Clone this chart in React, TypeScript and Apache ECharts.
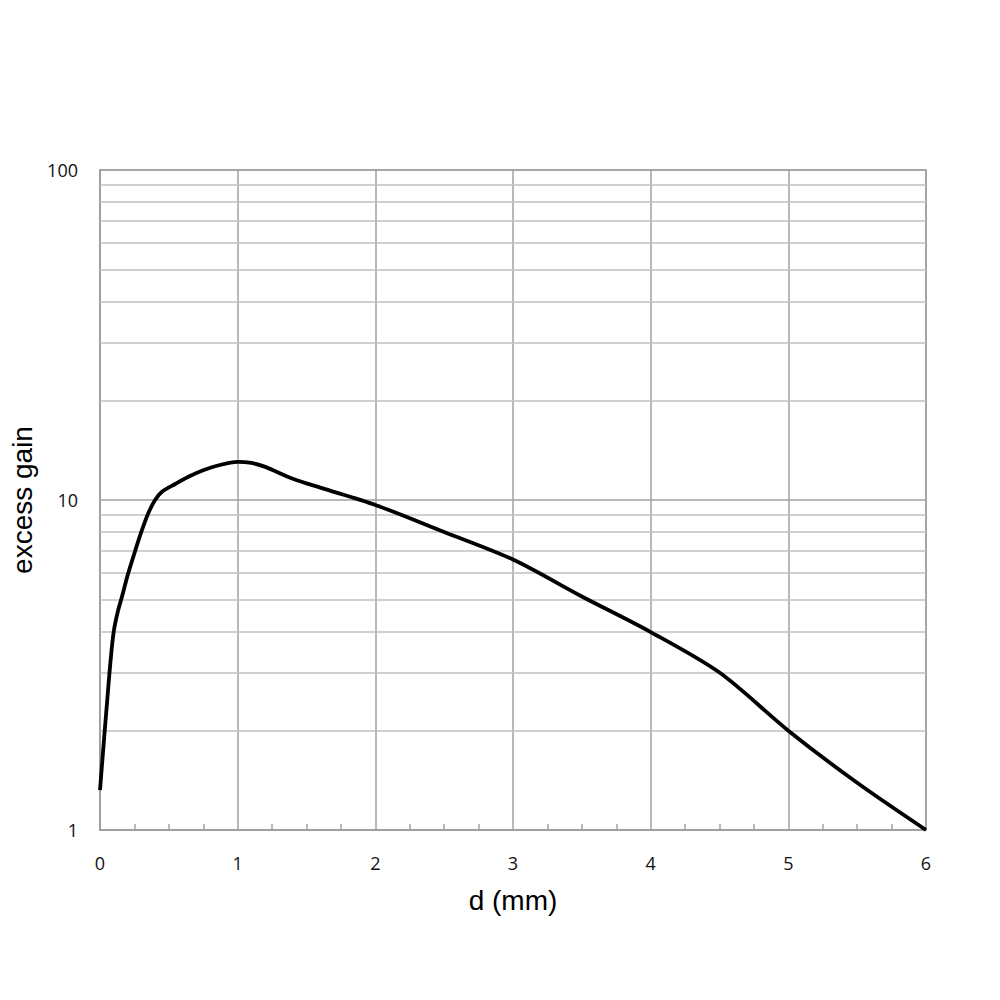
import React, { useEffect, useRef } from "react";
import * as echarts from "echarts";

const dValues = [0, 0.03, 0.05, 0.075, 0.1, 0.13, 0.16, 0.2, 0.25, 0.3, 0.35, 0.4, 0.45, 0.55, 0.65, 0.75, 0.85, 1.0, 1.1, 1.2, 1.4, 1.6, 2.0, 2.5, 3.0, 3.5, 4.0, 4.5, 5.0, 5.5, 6.0];
const gainValues = [1.32, 1.9, 2.4, 3.2, 4.0, 4.6, 5.1, 5.9, 6.9, 8.0, 9.1, 10.0, 10.6, 11.2, 11.8, 12.3, 12.7, 13.05, 12.95, 12.6, 11.6, 10.9, 9.66, 8.0, 6.6, 5.1, 3.98, 3.0, 2.0, 1.39, 1.0];
const minorGridValues = [2, 3, 4, 5, 6, 7, 8, 9, 20, 30, 40, 50, 60, 70, 80, 90];
const xTitle = "d (mm)";
const yTitle = "excess gain";

export default function App() {
  const ref = useRef<HTMLDivElement>(null);
  useEffect(() => {
    if (!ref.current) return;
    const chart = echarts.init(ref.current, undefined, { renderer: "svg" });
    chart.setOption({
      animation: false,
      backgroundColor: "#ffffff",
      grid: {
        left: 92, top: 162, right: 82, bottom: 178,
        outerBoundsMode: "none",
        containLabel: false,
        show: true, borderColor: "#a0a0a0", borderWidth: 1.5,
      },
      xAxis: {
        type: "value",
        min: 0,
        max: 6,
        interval: 1,
        name: xTitle,
        nameLocation: "middle",
        nameGap: 56,
        nameTextStyle: { fontFamily: "Liberation Sans", fontSize: 28, color: "#000" },
        axisLine: { lineStyle: { color: "#a0a0a0", width: 2 } },
        axisTick: { show: false, inside: true },
        minorTick: { show: true, splitNumber: 4, length: 6, lineStyle: { color: "#a0a0a0", width: 1.5 } },
        axisLabel: { fontFamily: "Open Sans", fontSize: 18, color: "#111", margin: 24 },
        splitLine: { show: true, lineStyle: { color: "#a0a0a0", width: 1.5 } },
      },
      yAxis: {
        type: "log",
        logBase: 10,
        min: 1,
        max: 100,
        name: yTitle,
        nameLocation: "middle",
        nameGap: 54,
        nameTextStyle: { fontFamily: "Liberation Sans", fontSize: 28, color: "#000" },
        axisLine: { show: true, lineStyle: { color: "#a0a0a0", width: 2 } },
        axisTick: { show: false },
        axisLabel: { fontFamily: "Open Sans", fontSize: 18, color: "#111", margin: 22 },
        splitLine: { show: true, lineStyle: { color: "#a0a0a0", width: 1.5 } },
      },
      series: [
        {
          type: "line",
          data: dValues.map((d, i) => [d, gainValues[i]]),
          smooth: 0.3,
          showSymbol: false,
          symbol: "none",
          lineStyle: { color: "#000", width: 3.8 },
          z: 5,
          markLine: {
            silent: true,
            symbol: "none",
            label: { show: false },
            lineStyle: { color: "#c0c0c0", width: 1.5, type: "solid" },
            data: minorGridValues.map((v) => ({ yAxis: v })),
          },
        },
      ],
    });
    return () => chart.dispose();
  }, []);
  return <div ref={ref} style={{ width: 1000, height: 1000 }} />;
}
